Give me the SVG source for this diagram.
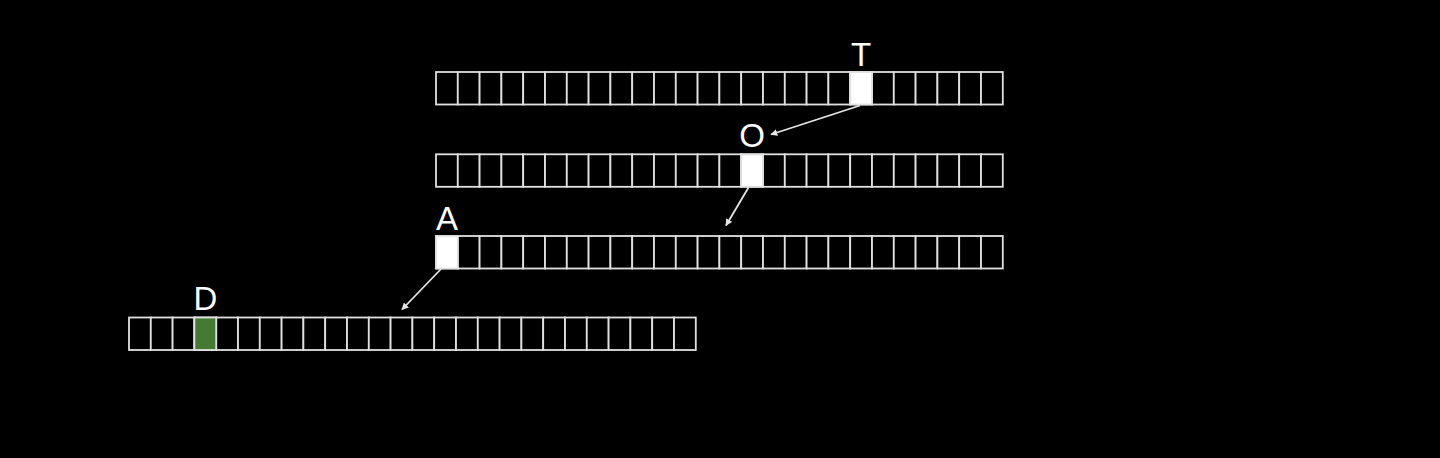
<svg xmlns="http://www.w3.org/2000/svg" xmlns:xlink="http://www.w3.org/1999/xlink" width="1440" height="458" viewBox="0 0 1440 458">
<style>
.cell{fill:#000;stroke:#e0e0e0;stroke-width:1.8}
.hl{fill:#fff;stroke:#e0e0e0;stroke-width:1.8}
.green{fill:#467a32;stroke:#e0e0e0;stroke-width:1.8}
.lbl{font-family:"Liberation Sans",Arial,sans-serif;font-size:33px;fill:#fff;text-anchor:middle}
.conn{stroke:#e6e6e6;stroke-width:1.8;fill:none;marker-end:url(#ah)}
</style>
<defs>
<marker id="ah" viewBox="0 0 10 10" refX="9" refY="5" markerWidth="7" markerHeight="7" markerUnits="userSpaceOnUse" orient="auto">
<path d="M0,0 L10,5 L0,10 z" fill="#e6e6e6"/>
</marker>
<g id="row">
<rect class="cell" x="0" y="0" width="21.8" height="32.5"/>
<rect class="cell" x="21.8" y="0" width="21.8" height="32.5"/>
<rect class="cell" x="43.6" y="0" width="21.8" height="32.5"/>
<rect class="cell" x="65.4" y="0" width="21.8" height="32.5"/>
<rect class="cell" x="87.2" y="0" width="21.8" height="32.5"/>
<rect class="cell" x="109" y="0" width="21.8" height="32.5"/>
<rect class="cell" x="130.8" y="0" width="21.8" height="32.5"/>
<rect class="cell" x="152.6" y="0" width="21.8" height="32.5"/>
<rect class="cell" x="174.4" y="0" width="21.8" height="32.5"/>
<rect class="cell" x="196.2" y="0" width="21.8" height="32.5"/>
<rect class="cell" x="218" y="0" width="21.8" height="32.5"/>
<rect class="cell" x="239.8" y="0" width="21.8" height="32.5"/>
<rect class="cell" x="261.6" y="0" width="21.8" height="32.5"/>
<rect class="cell" x="283.4" y="0" width="21.8" height="32.5"/>
<rect class="cell" x="305.2" y="0" width="21.8" height="32.5"/>
<rect class="cell" x="327" y="0" width="21.8" height="32.5"/>
<rect class="cell" x="348.8" y="0" width="21.8" height="32.5"/>
<rect class="cell" x="370.6" y="0" width="21.8" height="32.5"/>
<rect class="cell" x="392.4" y="0" width="21.8" height="32.5"/>
<rect class="cell" x="414.2" y="0" width="21.8" height="32.5"/>
<rect class="cell" x="436" y="0" width="21.8" height="32.5"/>
<rect class="cell" x="457.8" y="0" width="21.8" height="32.5"/>
<rect class="cell" x="479.6" y="0" width="21.8" height="32.5"/>
<rect class="cell" x="501.4" y="0" width="21.8" height="32.5"/>
<rect class="cell" x="523.2" y="0" width="21.8" height="32.5"/>
<rect class="cell" x="545" y="0" width="21.8" height="32.5"/>
</g>
</defs>
<rect x="0" y="0" width="1440" height="458" fill="#000"/>
<g id="row1">
<use xlink:href="#row" href="#row" x="436" y="72"/>
<rect class="hl" x="850.2" y="72" width="21.8" height="32.5"/>
<text class="lbl" x="861.1" y="66">T</text>
</g>
<g id="row2">
<use xlink:href="#row" href="#row" x="436" y="154.3"/>
<rect class="hl" x="741.2" y="154.3" width="21.8" height="32.5"/>
<text class="lbl" x="752.1" y="146.5">O</text>
</g>
<g id="row3">
<use xlink:href="#row" href="#row" x="436" y="236"/>
<rect class="hl" x="436" y="236" width="21.8" height="32.5"/>
<text class="lbl" x="446.9" y="230">A</text>
</g>
<g id="row4">
<use xlink:href="#row" href="#row" x="129" y="317.5"/>
<rect class="green" x="194.4" y="317.5" width="21.8" height="32.5"/>
<text class="lbl" x="205.3" y="310">D</text>
</g>
<g id="connectors">
<line class="conn" x1="860" y1="105.5" x2="771" y2="134.5"/>
<line class="conn" x1="748.5" y1="187.5" x2="726" y2="225.5"/>
<line class="conn" x1="441" y1="269" x2="402" y2="309.5"/>
</g>
</svg>
